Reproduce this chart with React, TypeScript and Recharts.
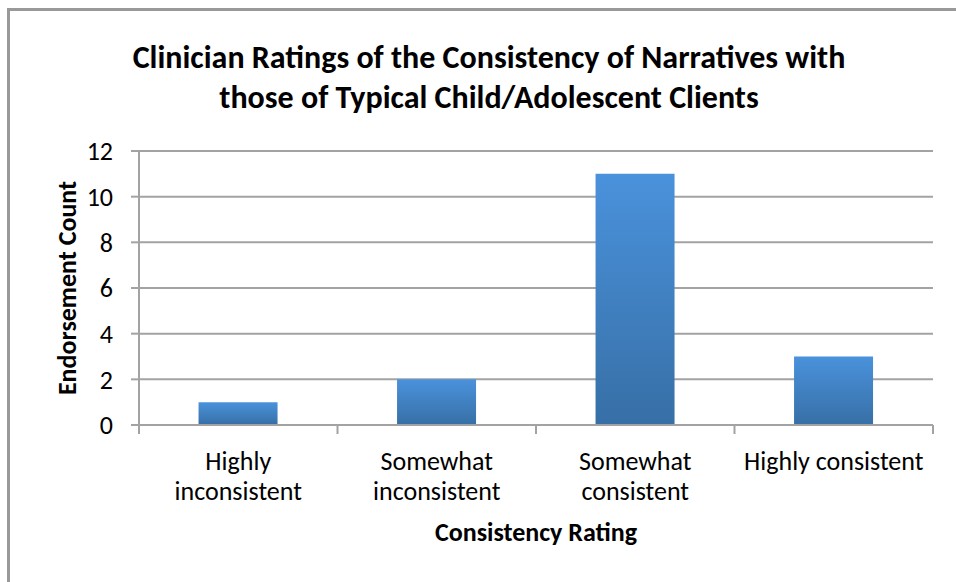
import { Bar, BarChart, CartesianGrid, Label, XAxis, YAxis } from 'recharts'

const CATEGORIES = ['Highly inconsistent', 'Somewhat inconsistent', 'Somewhat consistent', 'Highly consistent']
const TICK_LINES = [['Highly', 'inconsistent'], ['Somewhat', 'inconsistent'], ['Somewhat', 'consistent'], ['Highly consistent']]
const COUNTS = [1, 2, 11, 3]
const Y_TICKS = [0, 2, 4, 6, 8, 10, 12]

const FONT = "Carlito, Lato, 'Open Sans', sans-serif"
const GRAY = '#a3a3a3'
const HALF_BAND = (933 - 139) / 8

const data = CATEGORIES.map((name, i) => ({ name, count: COUNTS[i] }))

// category label plus the tick marks between categories (Excel style)
function CatTick(props: any) {
  const { x, y, payload, index } = props
  const lines = TICK_LINES[index] ?? [payload.value]
  return (
    <g>
      <line x1={x - HALF_BAND} x2={x - HALF_BAND} y1={y} y2={y + 9} stroke={GRAY} strokeWidth={2} />
      {index === CATEGORIES.length - 1 && (
        <line x1={x + HALF_BAND} x2={x + HALF_BAND} y1={y} y2={y + 9} stroke={GRAY} strokeWidth={2} />
      )}
      {lines.map((l: string, i: number) => (
        <text key={i} x={x} y={y + 45 + i * 30} textAnchor="middle" fontFamily={FONT} fontSize={26} fill="#000">
          {l}
        </text>
      ))}
    </g>
  )
}

export default function App() {
  return (
    <div style={{ position: 'absolute', left: 0, top: 0, width: 956, height: 582, background: '#fff' }}>
      <div style={{
        position: 'absolute', left: 7, top: 8, width: 949, height: 574,
        borderLeft: '3px solid #999', borderTop: '3px solid #999',
      }} />
      <div style={{
        position: 'absolute', left: 0, top: 38, width: 978, textAlign: 'center',
        fontFamily: FONT, fontWeight: 700, fontSize: 32, lineHeight: '40px', color: '#000',
      }}>
        Clinician Ratings of the Consistency of Narratives with<br />
        those of Typical Child/Adolescent Clients
      </div>
      <div style={{ position: 'absolute', left: 0, top: 0 }}>
        <BarChart width={956} height={582} data={data} barCategoryGap="30%"
          margin={{ top: 151, right: 23, bottom: 97, left: 50 }}>
          <defs>
            <linearGradient id="barGrad" x1="0" y1="0" x2="0" y2="1">
              <stop offset="0%" stopColor="#4a92dc" />
              <stop offset="100%" stopColor="#376fa6" />
            </linearGradient>
          </defs>
          <CartesianGrid vertical={false} stroke={GRAY} strokeWidth={2} />
          <XAxis dataKey="name" interval={0} height={60} tickLine={false} tickSize={0} tickMargin={0}
            axisLine={{ stroke: GRAY, strokeWidth: 2 }} tick={<CatTick />}>
            <Label value="Consistency Rating" position="insideBottom" offset={-56}
              style={{ fontFamily: FONT, fontWeight: 700, fontSize: 26, fill: '#000' }} />
          </XAxis>
          <YAxis domain={[0, 12]} ticks={Y_TICKS} width={89} tickSize={8} tickMargin={18}
            axisLine={{ stroke: GRAY, strokeWidth: 2 }} tickLine={{ stroke: GRAY, strokeWidth: 2 }}
            tick={{ fontFamily: FONT, fontSize: 26, fill: '#000' }}>
            <Label value="Endorsement Count" angle={-90} position="insideLeft" offset={17}
              style={{ textAnchor: 'middle', fontFamily: FONT, fontWeight: 700, fontSize: 26, fill: '#000' }} />
          </YAxis>
          <Bar dataKey="count" fill="url(#barGrad)" isAnimationActive={false} />
        </BarChart>
      </div>
    </div>
  )
}
